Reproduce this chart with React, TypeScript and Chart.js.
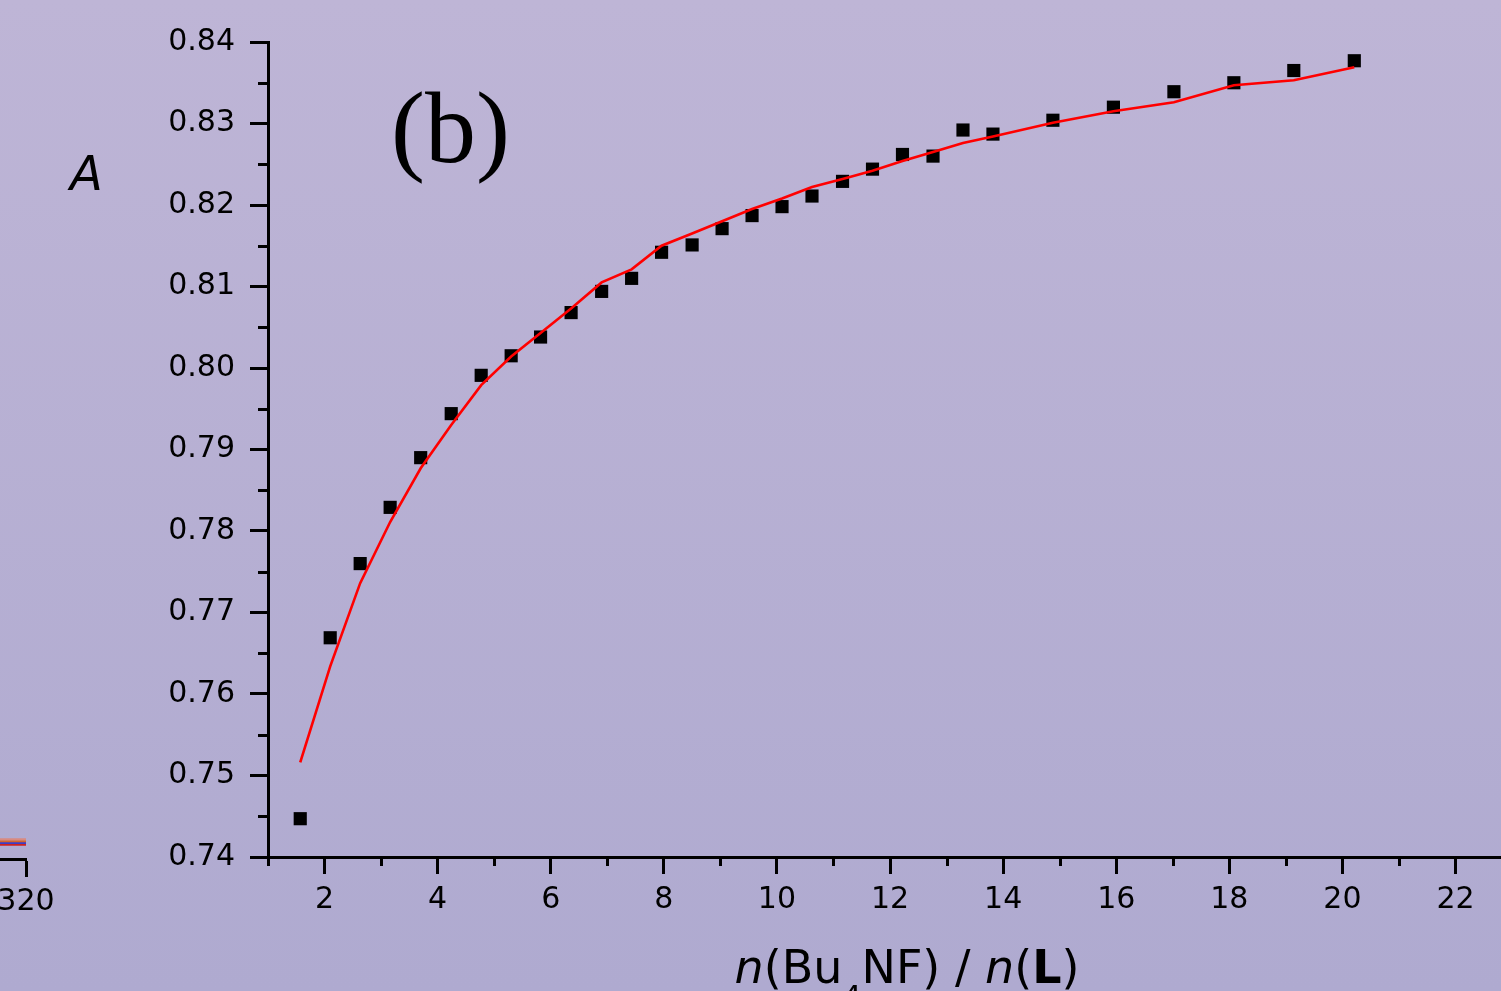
import React, { useEffect, useRef } from "react";
import { Chart, registerables } from "chart.js";

Chart.register(...registerables);

// ---- data (panel b) ----
const ratioX = [1.57, 2.10, 2.63, 3.16, 3.70, 4.24, 4.77, 5.30, 5.82, 6.36, 6.90, 7.43, 7.96, 8.50, 9.03, 9.56, 10.09, 10.62, 11.16, 11.69, 12.22, 12.76, 13.29, 13.82, 14.88, 15.95, 17.02, 18.08, 19.14, 20.21];
const measuredA = [0.7447, 0.7669, 0.7760, 0.7829, 0.7890, 0.7944, 0.7991, 0.8015, 0.8038, 0.8068, 0.8094, 0.8110, 0.8142, 0.8151, 0.8171, 0.8187, 0.8198, 0.8211, 0.8229, 0.8244, 0.8262, 0.8260, 0.8292, 0.8287, 0.8304, 0.8320, 0.8339, 0.8350, 0.8365, 0.8377];
const fittedA = [0.7516, 0.7634, 0.7736, 0.7811, 0.7877, 0.7930, 0.7979, 0.8014, 0.8043, 0.8073, 0.8105, 0.8121, 0.8150, 0.8165, 0.8180, 0.8195, 0.8208, 0.8222, 0.8232, 0.8242, 0.8254, 0.8265, 0.8276, 0.8284, 0.8301, 0.8315, 0.8326, 0.8347, 0.8353, 0.8369];

const xMin = 1;
const xMax = 23.6;
const xStep = 2;
const yMin = 0.74;
const yMax = 0.84;
const yStep = 0.01;

// ---- fragment of neighbouring panel (a) ----
const panelAWavelength = [300, 320];
const panelASpectra = [
  [0.0241, 0.0241],
  [0.0218, 0.0218],
  [0.0197, 0.0197],
  [0.0175, 0.0175],
];
const panelAColors = ["#d98a80", "#d2642e", "#3c3cc8", "#cc2222"];

const FAMILY = '"DejaVu Sans", sans-serif';

function minorValues(scale: any): number[] {
  const t = scale.ticks.map((k: any) => k.value);
  if (t.length < 2) return [];
  const step = t[1] - t[0];
  const out: number[] = [];
  for (let v = t[0] - step / 2; v <= scale.max + 1e-9; v += step) {
    if (v >= scale.min - 1e-9) out.push(v);
  }
  return out;
}

const decorPlugin = {
  id: "decor",
  afterDraw(chart: any) {
    const { ctx, chartArea, scales } = chart;
    ctx.save();
    // minor ticks
    ctx.strokeStyle = "#000";
    ctx.lineWidth = 3;
    ctx.lineCap = "butt";
    for (const v of minorValues(scales.y)) {
      const p = Math.round(scales.y.getPixelForValue(v)) + 0.5;
      ctx.beginPath();
      ctx.moveTo(chartArea.left - 10, p);
      ctx.lineTo(chartArea.left, p);
      ctx.stroke();
    }
    for (const v of minorValues(scales.x)) {
      const p = Math.round(scales.x.getPixelForValue(v)) + 0.5;
      ctx.beginPath();
      ctx.moveTo(p, chartArea.bottom);
      ctx.lineTo(p, chartArea.bottom + 9);
      ctx.stroke();
    }

    ctx.fillStyle = "#000";
    ctx.textAlign = "left";
    ctx.textBaseline = "alphabetic";

    // axis title (rich text)
    const segs = [
      { t: "n", f: `italic 46px ${FAMILY}`, dy: 0 },
      { t: "(Bu", f: `46px ${FAMILY}`, dy: 0 },
      { t: "4", f: `30px ${FAMILY}`, dy: 24 },
      { t: "NF) / ", f: `46px ${FAMILY}`, dy: 0 },
      { t: "n", f: `italic 46px ${FAMILY}`, dy: 0 },
      { t: "(", f: `46px ${FAMILY}`, dy: 0 },
      { t: "L", f: `bold 46px ${FAMILY}`, dy: 0 },
      { t: ")", f: `46px ${FAMILY}`, dy: 0 },
    ];
    let total = 0;
    const widths = segs.map((s) => {
      ctx.font = s.f;
      const w = ctx.measureText(s.t).width;
      total += w;
      return w;
    });
    let x = (chartArea.left + chartArea.right) / 2 - total / 2;
    const base = chartArea.bottom + 126;
    segs.forEach((s, i) => {
      ctx.font = s.f;
      ctx.fillText(s.t, x, base + s.dy);
      x += widths[i];
    });

    // y-axis label
    ctx.font = `italic 48px ${FAMILY}`;
    ctx.fillText("A", 70, 190);

    // panel label
    ctx.font = `102px "Liberation Serif", serif`;
    ctx.fillText("(b)", 391, 162);

    ctx.restore();
  },
};

export default function App() {
  const mainRef = useRef<HTMLCanvasElement>(null);
  const sideRef = useRef<HTMLCanvasElement>(null);

  useEffect(() => {
    const tickFont = { family: FAMILY, size: 30 };

    const main = new Chart(mainRef.current as HTMLCanvasElement, {
      type: "scatter",
      data: {
        datasets: [
          {
            label: "fit",
            data: ratioX.map((x, i) => ({ x, y: fittedA[i] })),
            showLine: true,
            borderColor: "#ff0000",
            borderWidth: 2.6,
            pointRadius: 0,
            fill: false,
            tension: 0,
          },
          {
            label: "measured",
            data: ratioX.map((x, i) => ({ x, y: measuredA[i] })),
            showLine: false,
            pointStyle: "rect",
            pointRadius: 9.3,
            pointBackgroundColor: "#000",
            pointBorderColor: "#000",
            pointBorderWidth: 0,
          },
        ],
      },
      options: {
        animation: false,
        responsive: false,
        devicePixelRatio: 1,
        layout: { padding: { top: 42, right: 14, bottom: 0, left: 0 } },
        plugins: {
          legend: { display: false },
          tooltip: { enabled: false },
          title: { display: false },
        },
        scales: {
          x: {
            type: "linear",
            min: xMin,
            max: xMax,
            ticks: {
              stepSize: xStep,
              includeBounds: false,
              font: tickFont,
              color: "#000",
              padding: 8,
              maxRotation: 0,
              callback: (v: any) => String(v),
            },
            grid: {
              drawOnChartArea: false,
              drawTicks: true,
              tickLength: 17,
              tickWidth: 3,
              tickColor: "#000",
            },
            border: { display: true, width: 3, color: "#000" },
            afterFit: (s: any) => {
              s.height = 134;
            },
          },
          y: {
            type: "linear",
            min: yMin,
            max: yMax,
            ticks: {
              stepSize: yStep,
              font: tickFont,
              color: "#000",
              padding: 15,
              callback: (v: any) => Number(v).toFixed(2),
            },
            grid: {
              drawOnChartArea: false,
              drawTicks: true,
              tickLength: 18,
              tickWidth: 3,
              tickColor: "#000",
            },
            border: { display: true, width: 3, color: "#000" },
            afterFit: (s: any) => {
              s.width = 268;
            },
          },
        },
      } as any,
      plugins: [decorPlugin],
    });

    const side = new Chart(sideRef.current as HTMLCanvasElement, {
      type: "scatter",
      data: {
        datasets: panelASpectra.map((ys, i) => ({
          label: "s" + i,
          data: panelAWavelength.map((x, j) => ({ x, y: ys[j] })),
          showLine: true,
          borderColor: panelAColors[i],
          borderWidth: 2,
          pointRadius: 0,
          tension: 0,
        })),
      },
      options: {
        animation: false,
        responsive: false,
        devicePixelRatio: 1,
        layout: { padding: { top: 42, right: 40, bottom: 0, left: 0 } },
        plugins: { legend: { display: false }, tooltip: { enabled: false } },
        scales: {
          x: {
            type: "linear",
            min: 300,
            max: 320,
            ticks: { stepSize: 20, font: tickFont, color: "#000", padding: 7, maxRotation: 0 },
            grid: { drawOnChartArea: false, tickLength: 18, tickWidth: 3, tickColor: "#000" },
            border: { display: true, width: 3, color: "#000" },
            afterFit: (s: any) => {
              s.height = 132;
            },
          },
          y: { display: false, min: 0, max: 1 },
        },
      } as any,
    });

    return () => {
      main.destroy();
      side.destroy();
    };
  }, []);

  return (
    <div
      style={{
        position: "fixed",
        left: 0,
        top: 0,
        width: 1501,
        height: 991,
        overflow: "hidden",
        background: "linear-gradient(to bottom, rgb(190,181,214), rgb(175,170,208))",
      }}
    >
      <canvas
        ref={sideRef}
        width={300}
        height={991}
        style={{ position: "absolute", left: -234, top: 0, width: 300, height: 991 }}
      />
      <canvas
        ref={mainRef}
        width={1560}
        height={991}
        style={{ position: "absolute", left: 0, top: 0, width: 1560, height: 991 }}
      />
    </div>
  );
}
